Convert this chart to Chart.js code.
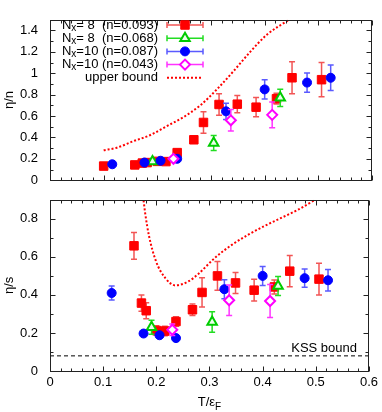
<!DOCTYPE html>
<html>
<head>
<meta charset="utf-8">
<script src="https://cdn.jsdelivr.net/npm/chart.js@4.4.1/dist/chart.umd.min.js"></script>
<style>
  body { margin: 0; background: #fff; }
  #wrap { position: relative; width: 382px; height: 412px; }
  canvas { position: absolute; left: 0; }
  #top { top: 0; }
  #bottom { top: 180px; }
</style>
</head>
<body>
<div id="wrap">
  <canvas id="top" width="382" height="200"></canvas>
  <canvas id="bottom" width="382" height="232"></canvas>
</div>
<script>
// T/eF of each series; "n" arrays are eta/n (top), "s" arrays are eta/s (bottom)
const tRed = [0.100, 0.158, 0.172, 0.181, 0.200, 0.216, 0.237, 0.268, 0.286, 0.315, 0.349, 0.384, 0.422, 0.451, 0.506];
const nRed = [0.132, 0.143, 0.160, 0.165, 0.176, 0.174, 0.258, 0.378, 0.540, 0.708, 0.711, 0.683, 0.762, 0.958, 0.940];
const nRedErr = [0.01, 0.01, 0.01, 0.01, 0.01, 0.01, 0.02, 0.02, 0.10, 0.10, 0.08, 0.09, 0.05, 0.15, 0.16];
const sRed = [null, 0.658, 0.357, 0.317, 0.213, 0.210, 0.260, 0.322, 0.413, 0.500, 0.463, 0.425, 0.442, 0.525, 0.483];
const sRedErr = [0, 0.07, 0.043, 0.042, 0.025, 0.025, 0.025, 0.03, 0.077, 0.076, 0.055, 0.057, 0.037, 0.082, 0.083];

const tGreen = [0.191, 0.305, 0.429];
const nGreen = [0.174, 0.347, 0.770];
const nGreenErr = [0.02, 0.07, 0.08];
const sGreen = [0.230, 0.258, 0.447];
const sGreenErr = [0.037, 0.054, 0.05];

const tBlue = [0.116, 0.176, 0.206, 0.237, 0.328, 0.400, 0.479, 0.523];
const nBlue = [0.149, 0.165, 0.182, 0.200, 0.644, 0.849, 0.913, 0.958];
const nBlueErr = [0.01, 0.01, 0.01, 0.01, 0.076, 0.09, 0.09, 0.12];
const sBlue = [0.410, 0.197, 0.188, 0.173, 0.430, 0.500, 0.488, 0.477];
const sBlueErr = [0.037, 0.01, 0.01, 0.01, 0.05, 0.05, 0.048, 0.057];

const tMagenta = [0.230, 0.337, 0.414];
const nMagenta = [0.200, 0.560, 0.611];
const nMagentaErr = [0.015, 0.10, 0.12];
const sMagenta = [0.217, 0.372, 0.368];
const sMagentaErr = [0.03, 0.08, 0.087];

// upper bound curves
const tBoundN = [0.100, 0.124, 0.155, 0.186, 0.217, 0.248, 0.280, 0.311, 0.342, 0.373, 0.404, 0.445];
const boundN = [0.280, 0.303, 0.364, 0.420, 0.504, 0.588, 0.700, 0.850, 1.020, 1.200, 1.360, 1.500];
const tBoundS = [0.176, 0.179, 0.186, 0.199, 0.217, 0.236, 0.261, 0.280, 0.311, 0.342, 0.373, 0.404, 0.435, 0.466, 0.497];
const boundS = [0.897, 0.830, 0.713, 0.580, 0.488, 0.450, 0.472, 0.513, 0.597, 0.663, 0.717, 0.763, 0.805, 0.847, 0.897];

const tKss = [0, 0.6];
const kss = [1 / (4 * Math.PI), 1 / (4 * Math.PI)];

const xTicks = [0, 0.1, 0.2, 0.3, 0.4, 0.5, 0.6];
const yTicksN = [0, 0.2, 0.4, 0.6, 0.8, 1, 1.2, 1.4];
const yTicksS = [0, 0.2, 0.4, 0.6, 0.8];

const labels = ["Nₓ= 8  (n=0.093)", "Nₓ= 8  (n=0.068)", "Nₓ=10 (n=0.087)", "Nₓ=10 (n=0.043)", "upper bound"];

const FONT = "'Liberation Sans', Arial, Helvetica, sans-serif";
Chart.defaults.font.family = FONT;
Chart.defaults.font.size = 13;
Chart.defaults.color = "#000";

const pts = (xs, ys) => xs.map((x, i) => ({ x, y: ys[i] }));

const styles = [
  { pointStyle: "rect", radius: 6, backgroundColor: "#ff0000", borderColor: "#ff0000", borderWidth: 1, errColor: "#f25555" },
  { pointStyle: "triangle", radius: 5.5, backgroundColor: "#eaffea", borderColor: "#00cc00", borderWidth: 2, errColor: "#22dd22" },
  { pointStyle: "circle", radius: 4.5, backgroundColor: "#0000ff", borderColor: "#0000ff", borderWidth: 1, errColor: "#5a5aff" },
  { pointStyle: "rectRot", radius: 5, backgroundColor: "#ffffff", borderColor: "#ff00ff", borderWidth: 2, errColor: "#ff33ff" },
];

const seriesSet = (xsList, ysList, errList) =>
  styles.map((st, i) => ({
    label: labels[i],
    data: pts(xsList[i], ysList[i]),
    err: errList[i],
    errColor: st.errColor,
    pointStyle: st.pointStyle,
    pointRadius: st.radius,
    backgroundColor: st.backgroundColor,
    borderColor: st.borderColor,
    pointBorderWidth: st.borderWidth,
    showLine: false,
    order: 4 - i,
  }));

const boundSet = (xs, ys) => ({
  label: labels[4],
  data: pts(xs, ys),
  showLine: true,
  pointRadius: 0,
  borderColor: "#ff0000",
  borderWidth: 2,
  borderDash: [2, 2],
  cubicInterpolationMode: "monotone",
  order: 0,
});

const drawErrBar = (ctx, x, y1, y2, cap) => {
  ctx.moveTo(x, y1);
  ctx.lineTo(x, y2);
  ctx.moveTo(x - cap, y1);
  ctx.lineTo(x + cap, y1);
  ctx.moveTo(x - cap, y2);
  ctx.lineTo(x + cap, y2);
};

// error bars under each series, then a frame with inward ticks on every side
const framePlugin = {
  id: "frameBox",
  beforeDatasetDraw(chart, args) {
    const ds = chart.data.datasets[args.index];
    if (!ds.err) return;
    const { ctx, scales: { x, y } } = chart;
    ctx.save();
    ctx.strokeStyle = ds.errColor;
    ctx.lineWidth = 1.5;
    ctx.beginPath();
    ds.data.forEach((p, i) => {
      if (p.y == null) return;
      const px = x.getPixelForValue(p.x);
      drawErrBar(ctx, px, y.getPixelForValue(p.y - ds.err[i]), y.getPixelForValue(p.y + ds.err[i]), 3);
    });
    ctx.stroke();
    ctx.restore();
  },
  afterDatasetsDraw(chart) {
    const { ctx, chartArea: a, scales: { x, y } } = chart;
    const left = Math.round(a.left) + 0.5;
    const right = Math.round(a.right) - 0.5;
    const top = Math.round(a.top) + 0.5;
    const bottom = Math.round(a.bottom) + 0.5;
    ctx.save();
    ctx.strokeStyle = "#222";
    ctx.lineWidth = 1;
    ctx.strokeRect(left, top, right - left, bottom - top);
    ctx.beginPath();
    for (let i = 0; i <= 30; i++) {
      const px = Math.round(x.getPixelForValue(i * 0.02)) + 0.5;
      const len = i % 5 === 0 ? 5 : 3;
      ctx.moveTo(px, top);
      ctx.lineTo(px, top + len);
      ctx.moveTo(px, bottom);
      ctx.lineTo(px, bottom - len);
    }
    for (let i = 0; i * 0.1 <= y.max + 1e-9; i++) {
      const py = Math.round(y.getPixelForValue(i * 0.1)) + 0.5;
      const len = i % 2 === 0 ? 5 : 3;
      ctx.moveTo(left, py);
      ctx.lineTo(left + len, py);
      ctx.moveTo(right, py);
      ctx.lineTo(right - len, py);
    }
    ctx.stroke();
    ctx.restore();
  },
};

// text with an optional "ₓ" subscript, right aligned at xr
const drawLabel = (ctx, text, xr, y) => {
  const big = "13px " + FONT;
  const small = "10px " + FONT;
  const parts = text.includes("ₓ")
    ? [[text.split("ₓ")[0], big, 0], ["x", small, 3], [text.split("ₓ")[1], big, 0]]
    : [[text, big, 0]];
  let w = 0;
  parts.forEach(([t, f]) => { ctx.font = f; w += ctx.measureText(t).width; });
  let cx = xr - w;
  ctx.textBaseline = "middle";
  ctx.textAlign = "left";
  ctx.fillStyle = "#000";
  parts.forEach(([t, f, dy]) => {
    ctx.font = f;
    ctx.fillText(t, cx, y + dy);
    cx += ctx.measureText(t).width;
  });
};

const keyPlugin = {
  id: "keyBox",
  afterDraw(chart) {
    const ctx = chart.ctx;
    ctx.save();
    chart.data.datasets.forEach((ds, i) => {
      const y = 25 + i * 13.2;
      drawLabel(ctx, ds.label, 158, y);
      if (ds.err) {
        ctx.strokeStyle = ds.errColor;
        ctx.lineWidth = 1.5;
        ctx.beginPath();
        ctx.moveTo(167, y);
        ctx.lineTo(203, y);
        ctx.moveTo(167, y - 3);
        ctx.lineTo(167, y + 3);
        ctx.moveTo(203, y - 3);
        ctx.lineTo(203, y + 3);
        ctx.stroke();
        ctx.fillStyle = ds.backgroundColor;
        ctx.strokeStyle = ds.borderColor;
        ctx.lineWidth = ds.pointBorderWidth;
        Chart.helpers.drawPoint(ctx, { pointStyle: ds.pointStyle, radius: ds.pointRadius, rotation: 0, borderWidth: ds.pointBorderWidth }, 185, y);
      } else {
        ctx.strokeStyle = ds.borderColor;
        ctx.lineWidth = ds.borderWidth;
        ctx.setLineDash(ds.borderDash);
        ctx.beginPath();
        ctx.moveTo(167, y);
        ctx.lineTo(201, y);
        ctx.stroke();
        ctx.setLineDash([]);
      }
    });
    ctx.restore();
  },
};

const bottomTextPlugin = {
  id: "bottomText",
  afterDraw(chart) {
    const ctx = chart.ctx;
    const a = chart.chartArea;
    ctx.save();
    ctx.fillStyle = "#000";
    ctx.textBaseline = "middle";
    ctx.textAlign = "right";
    ctx.font = "13px " + FONT;
    ctx.fillText("KSS bound", 357, 168);
    // axis title T/eF with subscript F
    ctx.textAlign = "left";
    ctx.textBaseline = "alphabetic";
    const main = "T/ε";
    const w1 = ctx.measureText(main).width;
    ctx.font = "10px " + FONT;
    const w2 = ctx.measureText("F").width;
    const x0 = (a.left + a.right) / 2 - (w1 + w2) / 2;
    ctx.font = "13px " + FONT;
    ctx.fillText(main, x0, 225.5);
    ctx.font = "10px " + FONT;
    ctx.fillText("F", x0 + w1, 229.5);
    ctx.restore();
  },
};

const xScale = (show) => ({
  type: "linear",
  min: 0,
  max: 0.6,
  display: show,
  grid: { display: false, drawTicks: false },
  border: { display: false },
  afterBuildTicks: (s) => { s.ticks = xTicks.map((v) => ({ value: v })); },
  afterFit: (s) => { if (show) s.height = 41; },
  ticks: { padding: 4, maxRotation: 0, autoSkip: false, callback: (v) => String(v) },
});

const yScale = (max, ticks, title) => ({
  type: "linear",
  min: 0,
  max,
  grid: { display: false, drawTicks: false },
  border: { display: false },
  afterBuildTicks: (s) => { s.ticks = ticks.map((v) => ({ value: v })); },
  afterFit: (s) => { s.width = 50; },
  ticks: { padding: 12, autoSkip: false, callback: (v) => String(v) },
  title: { display: true, text: title, padding: { top: 2, bottom: 0 } },
});

const baseOptions = (padding, x, y) => ({
  responsive: false,
  animation: false,
  layout: { padding },
  plugins: { legend: { display: false }, tooltip: { enabled: false } },
  scales: { x, y },
});

new Chart(document.getElementById("top"), {
  type: "scatter",
  data: {
    datasets: [
      ...seriesSet([tRed, tGreen, tBlue, tMagenta], [nRed, nGreen, nBlue, nMagenta], [nRedErr, nGreenErr, nBlueErr, nMagentaErr]),
      boundSet(tBoundN, boundN),
    ],
  },
  options: baseOptions({ top: 12, right: 10, bottom: 10, left: 0 }, xScale(false), yScale(1.5, yTicksN, "η/n")),
  plugins: [framePlugin, keyPlugin],
});

new Chart(document.getElementById("bottom"), {
  type: "scatter",
  data: {
    datasets: [
      ...seriesSet([tRed, tGreen, tBlue, tMagenta], [sRed, sGreen, sBlue, sMagenta], [sRedErr, sGreenErr, sBlueErr, sMagentaErr]),
      boundSet(tBoundS, boundS),
      {
        label: "KSS bound",
        data: pts(tKss, kss),
        showLine: true,
        pointRadius: 0,
        borderColor: "#000",
        borderWidth: 1,
        borderDash: [4, 3],
        order: 5,
      },
    ],
  },
  options: baseOptions({ top: 10, right: 10, bottom: 0, left: 0 }, xScale(true), yScale(0.9, yTicksS, "η/s")),
  plugins: [framePlugin, bottomTextPlugin],
});
</script>
</body>
</html>
